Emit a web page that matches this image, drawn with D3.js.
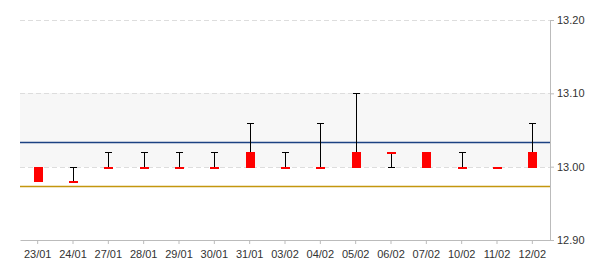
<!DOCTYPE html>
<html>
<head>
<meta charset="utf-8">
<script src="https://cdn.jsdelivr.net/npm/d3@7"></script>
<style>
  body { margin: 0; background: #fff; }
  text { font-family: "Liberation Sans", Arial, sans-serif; }
</style>
</head>
<body>
<div id="wrapper"></div>
<script>
const dates = ["23/01","24/01","27/01","28/01","29/01","30/01","31/01","03/02","04/02","05/02","06/02","07/02","10/02","11/02","12/02"]
const opens  = [13.00, 12.98, 13.00, 13.00, 13.00, 13.00, 13.00, 13.00, 13.00, 13.00, 13.02, 13.00, 13.00, 13.00, 13.00]
const closes = [12.98, 12.98, 13.00, 13.00, 13.00, 13.00, 13.02, 13.00, 13.00, 13.02, 13.02, 13.02, 13.00, 13.00, 13.02]
const highs  = [13.00, 13.00, 13.02, 13.02, 13.02, 13.02, 13.06, 13.02, 13.06, 13.10, 13.02, 13.02, 13.02, 13.00, 13.06]
const lows   = [12.98, 12.98, 13.00, 13.00, 13.00, 13.00, 13.00, 13.00, 13.00, 13.00, 13.00, 13.00, 13.00, 13.00, 13.00]
const yTicks = [12.90, 13.00, 13.10, 13.20]
const bandRange = [13.00, 13.10]
const blueLevel = 13.0337
const goldLevel = 12.9733

const dataset = dates.map((d, i) => ({
  date: d, open: opens[i], close: closes[i], high: highs[i], low: lows[i]
}))

function drawChart() {
  const dms = {
    width: 600,
    height: 270,
    margin: { top: 20, right: 50, bottom: 30, left: 20 },
  }
  dms.boundedWidth = dms.width - dms.margin.left - dms.margin.right
  dms.boundedHeight = dms.height - dms.margin.top - dms.margin.bottom

  const wrapper = d3.select("#wrapper")
    .append("svg")
    .attr("width", dms.width)
    .attr("height", dms.height)

  const bounds = wrapper.append("g")
    .attr("transform", `translate(${dms.margin.left},${dms.margin.top})`)

  const xScale = d3.scaleBand()
    .domain(dates)
    .range([0, dms.boundedWidth])
    .padding(0)

  const yScale = d3.scaleLinear()
    .domain([12.90, 13.20])
    .range([dms.boundedHeight, 0])

  const py = v => Math.round(yScale(v))

  // shaded band
  bounds.append("rect")
    .attr("x", 0)
    .attr("width", dms.boundedWidth)
    .attr("y", py(bandRange[1]))
    .attr("height", py(bandRange[0]) - py(bandRange[1]))
    .attr("fill", "#f7f7f7")

  // grid
  bounds.append("g")
    .selectAll("line")
    .data(yTicks.slice(1))
    .join("line")
    .attr("x1", 0)
    .attr("x2", dms.boundedWidth)
    .attr("y1", d => py(d) + 0.5)
    .attr("y2", d => py(d) + 0.5)
    .attr("stroke", "#dddddd")
    .attr("stroke-dasharray", "5,3")

  // reference lines
  const refs = [
    { v: blueLevel, c: "#1c4282" },
    { v: goldLevel, c: "#c4960f" },
  ]
  bounds.append("g")
    .selectAll("line")
    .data(refs)
    .join("line")
    .attr("x1", 0)
    .attr("x2", dms.boundedWidth)
    .attr("y1", d => py(d.v) + 0.5)
    .attr("y2", d => py(d.v) + 0.5)
    .attr("stroke", d => d.c)
    .attr("stroke-width", 1.3)

  const cx = d => Math.round(xScale(d.date) + xScale.bandwidth() / 2)
  const capW = 3.5
  const bodyW = 9

  const candles = bounds.append("g")
    .selectAll("g")
    .data(dataset)
    .join("g")

  candles.filter(d => d.high > d.low)
    .append("path")
    .attr("d", d => {
      const x = cx(d) + 0.5
      const yh = py(d.high) + 0.5
      const yl = py(d.low) + 0.5
      return `M${x},${yh}V${yl}M${x - capW},${yh}H${x + capW}M${x - capW},${yl}H${x + capW}`
    })
    .attr("stroke", "#000")
    .attr("stroke-width", 1)
    .attr("fill", "none")
    .attr("shape-rendering", "crispEdges")

  const bodyTop = d => py(Math.max(d.open, d.close))
  const bodyBot = d => py(Math.min(d.open, d.close)) + 1

  candles.append("rect")
    .attr("x", d => cx(d) - 4)
    .attr("width", bodyW)
    .attr("y", d => bodyBot(d) - bodyTop(d) < 2 ? bodyTop(d) : bodyTop(d))
    .attr("height", d => Math.max(2, bodyBot(d) - bodyTop(d)))
    .attr("fill", "#ff0000")

  // axes
  const xAxisGenerator = d3.axisBottom(xScale)
    .tickSize(4)
    .tickSizeOuter(0)
  const xAxis = bounds.append("g")
    .attr("transform", `translate(0,${dms.boundedHeight})`)
    .call(xAxisGenerator)
  xAxis.selectAll("text")
    .attr("dy", "0")
    .attr("y", 18)
    .attr("fill", "#333")
    .style("font-size", "11px")

  const yAxisGenerator = d3.axisRight(yScale)
    .tickValues(yTicks)
    .tickFormat(d3.format(".2f"))
    .tickSize(4)
    .tickSizeOuter(0)
  const yAxis = bounds.append("g")
    .attr("transform", `translate(${dms.boundedWidth},0)`)
    .call(yAxisGenerator)
  yAxis.selectAll("text")
    .attr("x", 7)
    .attr("fill", "#333")
    .style("font-size", "11px")

  bounds.selectAll(".domain, .tick line")
    .attr("stroke", "#bbbbbb")
}

drawChart()
</script>
</body>
</html>
